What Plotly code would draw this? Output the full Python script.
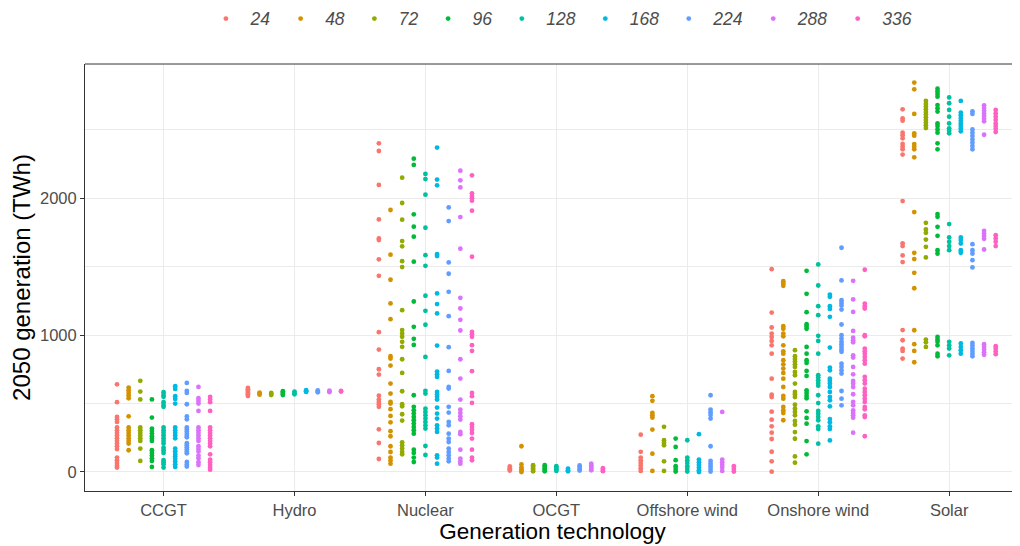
import plotly.graph_objects as go

categories = ["CCGT", "Hydro", "Nuclear", "OCGT", "Offshore wind", "Onshore wind", "Solar"]
series_labels = ["24", "48", "72", "96", "128", "168", "224", "288", "336"]
series_colors = ["#F8766D", "#D39200", "#93AA00", "#00BA38", "#00C19F",
                 "#00B9E3", "#619CFF", "#DB72FB", "#FF61C3"]

run_24 = {
    "CCGT": [641, 510, 402, 385, 366, 325, 305, 285, 266, 246, 227, 208, 188, 168, 105, 86, 66, 47, 32],
    "Hydro": [615, 605, 595, 585, 575, 565, 555],
    "Nuclear": [2402, 2346, 2098, 1846, 1707, 1695, 1554, 1434, 1022, 895, 751, 712, 558, 529, 512, 495, 476, 312, 212, 95],
    "OCGT": [40, 28, 18, 10],
    "Offshore wind": [273, 147, 105, 86, 66, 47, 27, 8],
    "Onshore wind": [1482, 1165, 1056, 1012, 987, 958, 926, 865, 682, 565, 548, 441, 382, 334, 287, 241, 148, 78, 2],
    "Solar": [2651, 2585, 2568, 2480, 2461, 2439, 2398, 2378, 2359, 2320, 1980, 1671, 1651, 1583, 1534, 1037, 963, 902, 885, 829],
}
run_48 = {
    "CCGT": [617, 598, 578, 559, 539, 407, 325, 305, 285, 266, 246, 227, 208, 159],
    "Hydro": [580, 572, 565],
    "Nuclear": [1915, 1588, 1405, 1232, 1117, 846, 829, 778, 646, 573, 512, 500, 459, 410, 363, 298, 261, 188, 146, 105, 85, 61],
    "OCGT": [188, 56, 34, 20, 8, 0],
    "Offshore wind": [554, 520, 432, 415, 398, 310, 134, 8],
    "Onshore wind": [1395, 1378, 1361, 1065, 1046, 1012, 992, 926, 882, 865, 817, 787, 756, 724, 682, 621, 556, 536, 475, 451, 431, 378],
    "Solar": [2846, 2797, 2617, 2475, 2458, 2397, 2378, 2358, 2300, 1900, 1602, 1556, 1456, 1343, 1036, 934, 885, 802],
}
run_72 = {
    "CCGT": [666, 588, 530, 325, 305, 285, 266, 246, 227, 171, 81],
    "Hydro": [578, 570, 562],
    "Nuclear": [2151, 1966, 1844, 1688, 1649, 1541, 1498, 1183, 1037, 1012, 988, 951, 915, 824, 724, 590, 495, 480, 422, 376, 217, 195, 171, 146, 129],
    "OCGT": [50, 38, 26, 14, 5],
    "Offshore wind": [330, 232, 212, 195, 78, 8],
    "Onshore wind": [890, 846, 826, 807, 787, 768, 731, 707, 646, 585, 568, 548, 492, 463, 439, 414, 373, 346, 292, 243, 114, 68],
    "Solar": [2712, 2690, 2670, 2651, 2631, 2612, 2592, 2573, 2553, 2534, 2514, 1821, 1773, 1748, 1699, 1646, 1568, 968, 948, 914],
}
run_96 = {
    "CCGT": [530, 398, 317, 300, 281, 261, 244, 227, 159, 139, 120, 100, 81, 37],
    "Hydro": [590, 580, 570, 562],
    "Nuclear": [2290, 2244, 1883, 1793, 1720, 1537, 1246, 1061, 973, 929, 561, 476, 451, 427, 402, 378, 354, 329, 305, 280, 163, 139, 105, 73],
    "OCGT": [50, 38, 26, 14, 5],
    "Offshore wind": [244, 183, 86, 42, 22, 3],
    "Onshore wind": [1470, 1302, 1168, 1080, 1063, 1046, 914, 865, 817, 797, 739, 702, 597, 578, 558, 539, 443, 395, 353, 226, 129],
    "Solar": [2802, 2782, 2763, 2743, 2682, 2658, 2634, 2548, 2529, 2504, 2480, 2402, 2358, 1885, 1865, 1792, 1726, 1621, 1597, 987, 968, 951, 926, 865, 846],
}
run_128 = {
    "CCGT": [583, 563, 549, 510, 490, 476, 325, 305, 285, 266, 246, 227, 208, 178, 159, 139, 86, 71, 56, 32],
    "Hydro": [588, 578, 568],
    "Nuclear": [2178, 2141, 2027, 1785, 1585, 1507, 1288, 1178, 1076, 841, 593, 573, 463, 439, 415, 390, 366, 341, 317, 190, 124],
    "OCGT": [42, 30, 18, 8],
    "Offshore wind": [232, 105, 86, 66, 42, 22, 3],
    "Onshore wind": [1517, 1363, 1212, 1146, 995, 958, 865, 707, 690, 670, 651, 631, 561, 504, 446, 426, 402, 378, 334, 314, 207],
    "Solar": [2738, 2695, 2646, 2597, 2548, 2512, 2495, 2475, 1812, 1714, 1682, 1651, 1621, 951, 926, 902, 853],
}
run_168 = {
    "CCGT": [627, 607, 554, 534, 500, 325, 305, 285, 266, 246, 171, 151, 132, 115, 96, 76, 56, 37],
    "Hydro": [598, 590, 585],
    "Nuclear": [2371, 2137, 2095, 1593, 1578, 1305, 1227, 1159, 924, 734, 715, 695, 585, 566, 549, 529, 471, 427, 390, 341, 317, 293, 122, 105, 61],
    "OCGT": [25, 12, 5],
    "Offshore wind": [276, 91, 71, 51, 32, 12, 0],
    "Onshore wind": [1297, 1280, 1212, 1192, 1134, 909, 763, 743, 682, 665, 646, 621, 585, 548, 524, 480, 387, 363, 334, 314, 231],
    "Solar": [2712, 2626, 2607, 2587, 2568, 2548, 2529, 2509, 2490, 1714, 1695, 1670, 1621, 1602, 939, 914, 890, 865],
}
run_224 = {
    "CCGT": [651, 593, 578, 495, 406, 385, 326, 310, 295, 280, 265, 253, 210, 195, 180, 165, 150, 137, 73, 55, 40],
    "Hydro": [596, 588, 582],
    "Nuclear": [1934, 1834, 1532, 1449, 1317, 1139, 912, 739, 622, 610, 476, 434, 366, 341, 280, 244, 219, 171, 146, 122, 98, 78],
    "OCGT": [48, 36, 22, 10],
    "Offshore wind": [561, 456, 437, 417, 390, 188, 81, 61, 42, 22, 3],
    "Onshore wind": [1639, 1400, 1256, 1236, 1217, 1187, 1078, 1000, 975, 951, 934, 914, 895, 878, 792, 768, 743, 719, 592, 536, 487],
    "Solar": [2636, 2617, 2504, 2480, 2456, 2431, 2407, 2382, 2358, 1665, 1621, 1597, 1548, 1495, 943, 924, 904, 885, 865, 846],
}
run_288 = {
    "CCGT": [622, 539, 519, 500, 446, 325, 305, 285, 266, 246, 227, 188, 168, 149, 120, 100, 71, 51],
    "Hydro": [594, 588, 584],
    "Nuclear": [2202, 2132, 2080, 1863, 1632, 1273, 1195, 1112, 1034, 824, 683, 529, 456, 432, 407, 383, 293, 276, 163, 98, 78, 61],
    "OCGT": [60, 48, 36, 24, 12],
    "Offshore wind": [439, 91, 71, 51, 32, 8],
    "Onshore wind": [1397, 1261, 1170, 1031, 982, 963, 948, 853, 836, 768, 714, 665, 646, 621, 568, 512, 487, 451, 431, 414, 397, 287],
    "Solar": [2680, 2660, 2641, 2621, 2602, 2582, 2563, 2465, 1763, 1743, 1724, 1704, 1626, 934, 914, 895, 875, 856],
}
run_336 = {
    "CCGT": [549, 530, 510, 446, 325, 305, 285, 266, 246, 227, 208, 188, 129, 90, 71, 51, 32, 17],
    "Hydro": [592, 588],
    "Nuclear": [2168, 2037, 2017, 2000, 1983, 1910, 1573, 1024, 1007, 988, 927, 885, 737, 578, 554, 505, 349, 329, 310, 285, 244, 163, 105, 85],
    "OCGT": [28, 15, 6],
    "Offshore wind": [42, 22, 3],
    "Onshore wind": [1478, 1231, 1212, 1195, 1000, 992, 902, 882, 865, 841, 817, 792, 695, 670, 646, 609, 585, 561, 536, 512, 475, 458, 414, 402, 261],
    "Solar": [2646, 2621, 2597, 2573, 2548, 2529, 2509, 2485, 1731, 1707, 1682, 1651, 919, 900, 880, 861],
}

all_runs = [run_24, run_48, run_72, run_96, run_128, run_168, run_224, run_288, run_336]

y_ticks = [0, 1000, 2000]
y_minor = [500, 1500, 2500]

FONT = "Liberation Sans, Arial, sans-serif"

fig = go.Figure()
for label, color, run in zip(series_labels, series_colors, all_runs):
    xs, ys = [], []
    for cat in categories:
        for v in run[cat]:
            xs.append(cat)
            ys.append(v)
    fig.add_trace(go.Scatter(
        x=xs, y=ys, mode="markers", name=label, offsetgroup=label,
        marker=dict(color=color, size=4.8, line=dict(width=0)),
    ))

# The page body has an 8px default margin, so the figure is sized to end
# exactly at the window's right and bottom edges.
fig.update_layout(
    width=1012, height=538,
    margin=dict(l=77, r=0, t=56, b=55, autoexpand=False),
    paper_bgcolor="white", plot_bgcolor="white",
    scattermode="group", scattergap=0.2,
    font=dict(family=FONT, color="#4D4D4D"),
    showlegend=True,
    legend=dict(
        orientation="h", x=0.1245, xanchor="left", y=1.106, yanchor="middle",
        font=dict(size=17.5, color="#4D4D4D", style="italic", family=FONT),
        itemwidth=39, tracegroupgap=0,
    ),
    shapes=[dict(type="line", xref="paper", yref="paper", x0=0, x1=1, y0=1, y1=1,
                 line=dict(color="#333333", width=1))],
)
fig.update_xaxes(
    type="category", categoryorder="array", categoryarray=categories,
    range=[-0.6, 6.541], automargin=False,
    showgrid=True, gridcolor="#EBEBEB", gridwidth=1.1,
    showline=True, linecolor="#333333", linewidth=1,
    ticks="outside", ticklen=4, tickcolor="#333333", tickwidth=1,
    tickfont=dict(size=16.5, color="#4D4D4D", family=FONT),
    title=dict(text="Generation technology", font=dict(size=22.5, color="black", family=FONT), standoff=4),
    zeroline=False,
)
fig.update_yaxes(
    range=[-139, 2982], automargin=False,
    tickvals=y_ticks, ticktext=[str(v) for v in y_ticks],
    showgrid=True, gridcolor="#EBEBEB", gridwidth=1.1,
    minor=dict(tickvals=y_minor, showgrid=True, gridcolor="#EBEBEB", gridwidth=0.55, ticks=""),
    showline=True, linecolor="#333333", linewidth=1,
    ticks="outside", ticklen=4, tickcolor="#333333", tickwidth=1,
    tickfont=dict(size=16.5, color="#4D4D4D", family=FONT),
    title=dict(text="2050 generation (TWh)", font=dict(size=24, color="black", family=FONT), standoff=6),
    zeroline=False,
)

fig.write_html("out.html")
